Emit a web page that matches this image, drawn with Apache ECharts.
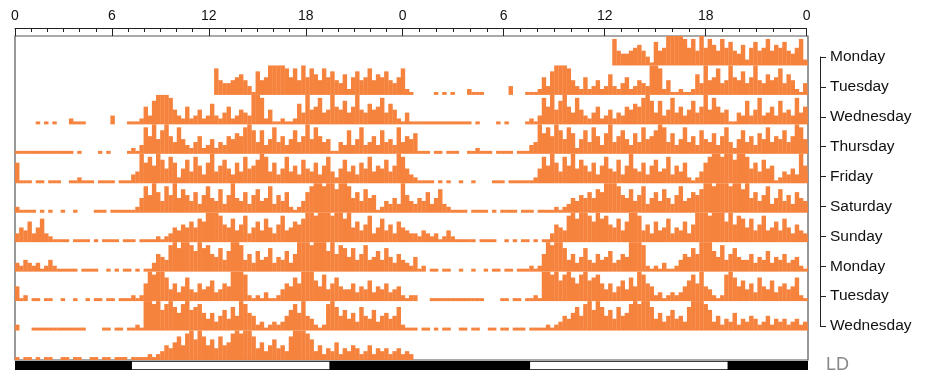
<!DOCTYPE html>
<html><head><meta charset="utf-8">
<script src="https://cdn.jsdelivr.net/npm/echarts@6/dist/echarts.min.js"></script>
<style>html,body{margin:0;padding:0;background:#fff}#c{width:925px;height:381px}</style>
</head><body><div id="c"></div>
<script>
// ---- data ----
const binHours = 0.25; // each value = 15 min of activity (0..10, 10 = full row)
const dayLabels = ['Monday','Tuesday','Wednesday','Thursday','Friday','Saturday','Sunday','Monday','Tuesday','Wednesday'];
const act1 = [0,0,0,0,0,0,0,0,0,0,0,0,0,0,0,0,0,0,0,0,0,0,0,0,0,0,0,0,0,0,0,0,0,0,0,0,0,0,0,0,0,0,0,0,0,0,0,0,
  9,5,4,4,5,6,7,5, 3,1, 8,5,6, 10,10,10,10,9, 6,9,5,10,6,9,7,5,9,6,8,5,4,7, 2, 6,8,5,6,9,5,7,6,8,5,4,6, 9,2,1];
const act2 = [0,0,0,0,0, 1,0,1,0,1, 0,0,0, 2,1,1,1, 0,0,0,0,0,0, 3, 0,0,0, 1,1,1,2, 6,3,8, 10,10,10,9, 5,
  3,2,6,2,3,5,2,3,7,3,2,4,6,2,3,5,4,3, 10,10,9, 2,5,1,1,2,1,1,2,
  7,4,10,5,6,9,4,5,10,6,5,8,4,6,10,5,4,7,5,6,9,4,7,5, 2,1,4,1];
const act3 = [1,1,1,1,1,1,1,1,1,1,1,1,1,1,0,1, 0,0,0,0, 1,0,1, 0,0,0,0, 1,2,1,3, 9,6,10,5,8,10,6,4,9,5,
  3,2,4,6,2,3,5,2,4,3,6, 5,7,6,9,10,8, 4,8,3, 5,9,4,6,3,5,8,4,6,10,5,9,6,4,5, 1,1,
  4,3,8,3,5,9,3,4,6,3,8,4,5,3,9,4,6,5];
const act4 = [7, 1,1,1,0,1,1,0,1,1,1,0,0,1,1,2,1,1,1,0,1,1,1,1,0,1,1,1,3, 4,10,7,9,6,10,8,5,9,7, 2,
  5,8,4,9,6,3,7,10,4,6,8,5,3,7,4,9,5,6,8,10,9, 4,7,3,5,9,4,6,3,8,5,4,7,3,6,9,4, 2,
  5,8,4,6,3,7,5,9,4,6,5,8,4,6,10,9,5,3];
const act5 = [2,1,1,1,1,0,1,0,1,0,0,1,0,0,1,0, 0,0,0, 1,1,1, 0,1,1,1,1,1,1,2, 5,9,6,10,7,4,9,6,10,5,8,6,
  4,7,3,6,9,5,4,8,3,6,10,5,4,7,3,6,8,4,5,9,3,6,4,7, 2,1,2, 4,7,9, 10,10,9,10,10,8,10,10,9,
  5,7,4,8,5,6, 1,2, 4,3,5,3,10,6,4];
const act6 = [3,5,4,7,3,5,8,3,2, 1,1,1,1,0,1,1,1,1,0,1,0,1,1,1,1,0,1,1,1,0,1,1,1,1,2,1,2, 3,5,4,6,5,7,5,8,
  7,10,10,10,9,6, 5,8,4,6,9,3,5,7,4,8,5,3,6,9,4,5,7,6, 8,10,10,9,10,10,10,9,10,10,8,10,
  5,7,4,6,9,3,5,8,4,6,3,7,5,4,3];
const act7 = [3,2, 4,3,2,3,1,2,4,2, 1,1,1,1,1,0,1,1,1,1,0,0,1,0,1,0,1,1,0,1,0,1,1, 3,6,5,4,
  9,10,8,10,10,9,7,10,8,9,6, 5,8,4,7, 10,10,9, 4,6,3,7,4,5,8,3,5,4,7,3,6, 10,10,10,9,10,10,10,
  7,10,6,9,8, 5,8,4,6,9,4,5,7,4,8,5,3,6,4,3,2];
const act8 = [5, 1,2,0,1,1,0,1,1,0,0,1,0,0,1,0,0,1,0,1,1,0,1,1,0,1,1,1,2,1,2, 6,10,9,10,10,8,
  4,6,3,5,8,4,3,6,4,5,7,3,4,6,5, 10,10,10,9, 2,1,2,1,3,1,1,2, 4,6,5,8,6, 10,10,10,
  7,5,9,4,6,8,5,4, 4,6,3,5,4,7,3,5,4,6,3,4,5, 2,1,2];
const act9 = [2, 0,0,0, 1,1,1,1,1,1,1,1,1,1,1,1,1, 0,0,0,0, 1,1,0,1,1,0,1,1,2,1,
  10,10,9,10,7,9,10,8,6,9,10,7,8,9,6, 4,6,3,5,7,4,8,5,10,9,6,5, 2,3,1,2,3,2,3, 5,7,9,6,10,5,4,
  2,1,2, 9,10,8, 5,7,4,6,3,8,5,4,7,3,5,6,4,5, 8,2,1,1];
const act10 = [1,0,1,1,0,1,0,1,1,0,0,1,1,0,1,1,0,0,1,1,0,1,1,0,1,1,1,0,1,1,1,1,2,1,2, 3,5,4,6,8,5,
  9,10,7,10,8, 5,7,4,8,5,6,9, 10,9,10,10,8, 4,6,3,5,7,4,5,3, 8,10,10,10,9,7,
  3,5,2,4,3,6,2,4,3,5,4,2,3,5,2,4,3,4,2,3,4,2,3,2];
const ldStart = [0, 7, 19, 31, 43];
const ldEnd   = [7, 19, 31, 43, 48];
const ldLight = [0, 1, 0, 1, 0];

// ---- build ----
const ORANGE = '#F6833D';
const FONT = 'Liberation Sans, Arial, sans-serif';
const days = [act1,act2,act3,act4,act5,act6,act7,act8,act9,act10];
const barData = [];
days.forEach((arr, d) => {
  arr.forEach((v, i) => {
    if (v > 0) {
      barData.push([i * binHours, d + 2, v]);        // left half of next row
      barData.push([24 + i * binHours, d + 1, v]);   // right half of own row
    }
  });
});
const ldData = ldStart.map((s, i) => [s, ldEnd[i], ldLight[i]]);

function renderBar(params, api) {
  const x0 = api.value(0), row = api.value(1), v = api.value(2);
  const p0 = api.coord([x0, row]);
  const p1 = api.coord([x0 + binHours, row - Math.min(1, v / 10)]);
  return {type: 'rect', shape: {x: p0[0], y: p1[1], width: p1[0] - p0[0] + 0.3, height: p0[1] - p1[1]},
    style: {fill: ORANGE}};
}
function renderLD(params, api) {
  const p0 = api.coord([api.value(0), 1]);
  const p1 = api.coord([api.value(1), 0]);
  const light = api.value(2) === 1;
  return {type: 'rect', shape: {x: p0[0], y: p0[1], width: p1[0] - p0[0], height: p1[1] - p0[1]},
    style: {fill: light ? '#fff' : '#000', stroke: '#000', lineWidth: light ? 1.6 : 0}};
}

const rulerCommon = {
  type: 'value', position: 'top', offset: 8, interval: 6,
  axisLine: {show: true, onZero: false, lineStyle: {color: '#222', width: 1}},
  axisTick: {show: true, inside: true, length: 8, lineStyle: {color: '#222'}},
  minorTick: {show: true, splitNumber: 6, length: 4, lineStyle: {color: '#222'}},
  splitLine: {show: false},
  axisLabel: {fontSize: 14, color: '#111', margin: 5, fontFamily: FONT}
};

const chart = echarts.init(document.getElementById('c'), null, {renderer: 'canvas'});
chart.setOption({
  animation: false,
  backgroundColor: '#fff',
  grid: [
    {left: 15, top: 36, width: 793, height: 324, show: true, borderColor: '#555', borderWidth: 1.2, backgroundColor: 'transparent'},
    {left: 15, top: 36, width: 387.7, height: 1},
    {left: 402.7, top: 36, width: 404, height: 1},
    {left: 810, top: 57, width: 10, height: 269},
    {left: 15, top: 361, width: 793, height: 9}
  ],
  xAxis: [
    {gridIndex: 0, type: 'value', min: 0, max: 47.8, show: false},
    Object.assign({}, rulerCommon, {gridIndex: 1, min: 0, max: 24,
      axisLabel: Object.assign({}, rulerCommon.axisLabel, {formatter: v => v === 24 ? '' : String(v)})}),
    Object.assign({}, rulerCommon, {gridIndex: 2, min: 24, max: 48,
      axisLabel: Object.assign({}, rulerCommon.axisLabel, {formatter: v => String(v % 24)})}),
    {gridIndex: 3, type: 'value', min: 0, max: 1, show: false},
    {gridIndex: 4, type: 'value', min: 0, max: 47.8, show: false}
  ],
  yAxis: [
    {gridIndex: 0, type: 'value', min: 0, max: 11, inverse: true, show: false},
    {gridIndex: 1, type: 'value', min: 0, max: 1, show: false},
    {gridIndex: 2, type: 'value', min: 0, max: 1, show: false},
    {gridIndex: 3, type: 'category', data: dayLabels, inverse: true, boundaryGap: false, position: 'right',
      axisLine: {show: true, onZero: false, lineStyle: {color: '#222', width: 1}},
      axisTick: {show: true, length: 6, lineStyle: {color: '#222'}},
      axisLabel: {fontSize: 15.5, color: '#111', margin: 10, fontFamily: FONT, interval: 0}},
    {gridIndex: 4, type: 'value', min: 0, max: 1, show: false},
    {gridIndex: 4, type: 'category', data: ['LD'], position: 'right',
      axisLine: {show: false, onZero: false}, axisTick: {show: false},
      axisLabel: {fontSize: 18, color: '#888', margin: 18, fontFamily: FONT, padding: [12, 0, 0, 0]}}
  ],
  series: [
    {type: 'custom', xAxisIndex: 0, yAxisIndex: 0, data: barData, renderItem: renderBar, clip: true, silent: true},
    {type: 'custom', xAxisIndex: 4, yAxisIndex: 4, data: ldData, renderItem: renderLD, clip: true, silent: true}
  ]
});
</script>
</body></html>
